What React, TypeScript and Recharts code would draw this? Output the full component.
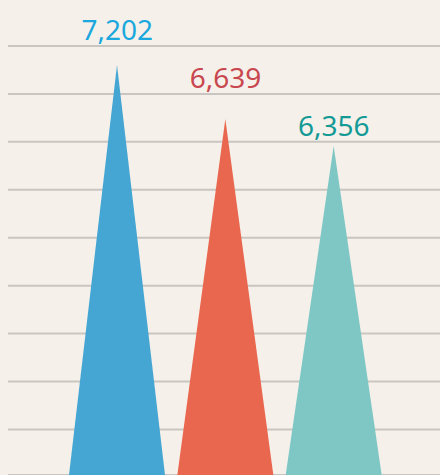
import React from 'react';
import { ComposedChart, Bar, Line, XAxis, YAxis, CartesianGrid, Cell, LabelList } from 'recharts';

const categories = ['A', 'B', 'C'];
const values = [7202, 6639, 6356];
const gridTicks = [3400, 3900, 4400, 4900, 5400, 5900, 6400, 6900, 7400];
const barColors = ['#45a6d3', '#e9674f', '#7ec7c5'];
const labelColors = ['#1ba8de', '#c9474f', '#149a96'];

const data = categories.map((name, i) => ({
  name,
  value: values[i],
  labelAt: gridTicks.find((t) => t >= values[i]) ?? gridTicks[gridTicks.length - 1],
}));

const Triangle = (props: any) => {
  const { x, y, width, height, fill } = props;
  const d = `M${x},${y + height} L${x + width / 2},${y} L${x + width},${y + height} Z`;
  return <path d={d} fill={fill} />;
};

const ValueLabel = (props: any) => {
  const { x, y, index } = props;
  return (
    <text
      x={x}
      y={y - 6}
      textAnchor="middle"
      fill={labelColors[index]}
      fontFamily="'Noto Sans', sans-serif"
      fontSize={28}
    >
      {values[index].toLocaleString('en-US')}
    </text>
  );
};

export default function App() {
  return (
    <div style={{ width: 440, height: 475, background: '#f5f1ea', overflow: 'hidden' }}>
      <style>{`html,body{margin:0;padding:0;background:#f5f1ea;overflow:hidden;}`}</style>
      <ComposedChart width={440} height={475} data={data} margin={{ top: 46, right: 0, bottom: 0, left: 8 }}>
        <CartesianGrid vertical={false} stroke="#c9c5c0" strokeWidth={2} />
        <XAxis dataKey="name" hide padding={{ left: 55, right: 52 }} />
        <YAxis hide domain={[2925, 7400]} ticks={gridTicks} allowDataOverflow />
        <Bar dataKey="value" barSize={96} shape={<Triangle />} isAnimationActive={false}>
          {data.map((d, i) => (
            <Cell key={d.name} fill={barColors[i]} />
          ))}
        </Bar>
        <Line
          dataKey="labelAt"
          stroke="none"
          dot={false}
          activeDot={false}
          isAnimationActive={false}
        >
          <LabelList dataKey="labelAt" content={<ValueLabel />} />
        </Line>
      </ComposedChart>
    </div>
  );
}
